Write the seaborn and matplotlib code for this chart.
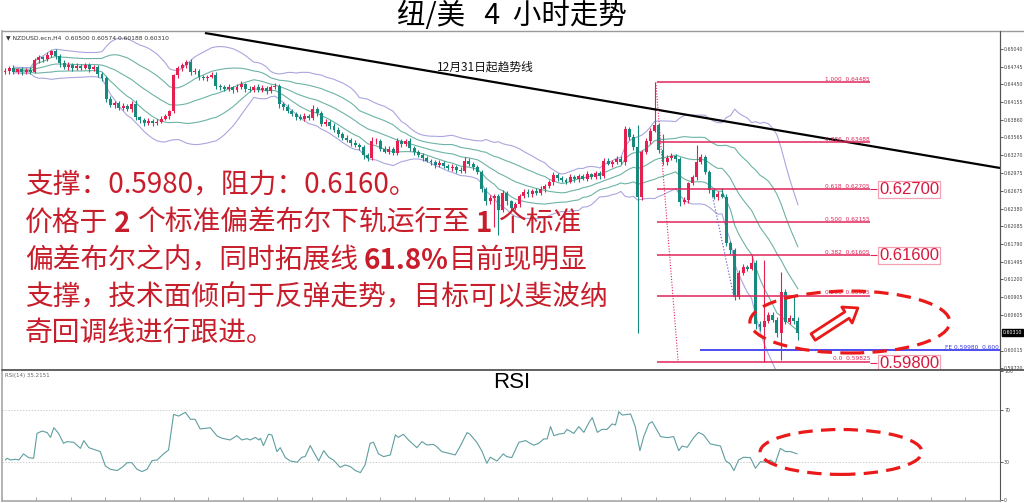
import numpy as np
import pandas as pd
import matplotlib
matplotlib.use("Agg")
import matplotlib.pyplot as plt
import seaborn as sns
from matplotlib.patches import Ellipse, FancyArrowPatch
from matplotlib.lines import Line2D

# ---------------- data ----------------
first_open = 0.6465
closes = [
    0.6468, 0.6472, 0.6466, 0.6470, 0.6465, 0.6469, 0.6466, 0.6486, 0.6490, 0.6487,
    0.6494, 0.6500, 0.6493, 0.6480, 0.6474, 0.6478, 0.6472, 0.6476, 0.6473, 0.6477,
    0.6471, 0.6474, 0.6462, 0.6456, 0.6420, 0.6411, 0.6414, 0.6406, 0.6409, 0.6404,
    0.6413, 0.6390, 0.6385, 0.6381, 0.6384, 0.6380, 0.6383, 0.6388, 0.6392, 0.6400,
    0.6461, 0.6472, 0.6478, 0.6483, 0.6465, 0.6468, 0.6457, 0.6455, 0.6458, 0.6461,
    0.6443, 0.6440, 0.6437, 0.6440, 0.6436, 0.6441, 0.6445, 0.6438, 0.6436, 0.6441,
    0.6436, 0.6439, 0.6434, 0.6440, 0.6443, 0.6412, 0.6408, 0.6400, 0.6396, 0.6391,
    0.6388, 0.6393, 0.6389, 0.6404, 0.6398, 0.6379, 0.6383, 0.6376, 0.6369, 0.6362,
    0.6356, 0.6352, 0.6348, 0.6344, 0.6340, 0.6327, 0.6322, 0.6350, 0.6351, 0.6338,
    0.6333, 0.6337, 0.6331, 0.6350, 0.6346, 0.6351, 0.6339, 0.6332, 0.6327, 0.6322,
    0.6318, 0.6315, 0.6311, 0.6314, 0.6309, 0.6305, 0.6308, 0.6303, 0.6300, 0.6318,
    0.6313, 0.6307, 0.6299, 0.6270, 0.6250, 0.6256, 0.6259, 0.6236, 0.6264, 0.6250,
    0.6239, 0.6245, 0.6259, 0.6266, 0.6262, 0.6268, 0.6264, 0.6270, 0.6276, 0.6282,
    0.6294, 0.6289, 0.6286, 0.6283, 0.6290, 0.6287, 0.6292, 0.6288, 0.6295, 0.6291,
    0.6297, 0.6293, 0.6318, 0.6313, 0.6316, 0.6321, 0.6315, 0.6370, 0.6358, 0.6340,
    0.6257, 0.6332, 0.6350, 0.6368, 0.6377, 0.6336, 0.6315, 0.6322, 0.6326, 0.6320,
    0.6249, 0.6252, 0.6280, 0.6290, 0.6316, 0.6324, 0.6299, 0.6269, 0.6257, 0.6262,
    0.6258, 0.6181, 0.6169, 0.6091, 0.6131, 0.6141, 0.6138, 0.6147, 0.6046, 0.6040,
    0.6051, 0.6061, 0.6052, 0.6030, 0.6099, 0.6049, 0.6056, 0.6050, 0.6031,
]
upper_wick_pips = [
    4, 3, 5, 3, 4, 3, 5, 3, 4, 3,
    5, 2, 4, 3, 6, 4, 3, 5, 3, 4,
    3, 4, 3, 4, 3, 6, 4, 3, 5, 4,
    4, 6, 3, 4, 5, 3, 4, 5, 4, 3,
    2, 4, 3, 3, 5, 4, 3, 4, 3, 5,
    4, 3, 4, 5, 3, 4, 5, 3, 4, 3,
    4, 5, 3, 4, 5, 3, 4, 5, 4, 3,
    4, 5, 3, 6, 4, 3, 4, 3, 4, 5,
    3, 4, 3, 4, 3, 4, 3, 7, 4, 3,
    4, 5, 3, 5, 4, 3, 4, 3, 4, 3,
    4, 3, 4, 5, 3, 4, 5, 3, 4, 6,
    4, 3, 4, 3, 4, 5, 3, 4, 5, 4,
    3, 4, 3, 5, 4, 3, 4, 5, 3, 4,
    5, 3, 4, 3, 5, 4, 3, 4, 5, 3,
    4, 3, 5, 4, 3, 5, 4, 5, 4, 5,
    37, 4, 5, 4, 72, 4, 26, 5, 4, 3,
    4, 5, 3, 4, 28, 5, 4, 3, 4, 5,
    10, 4, 3, 4, 5, 4, 3, 14, 5, 4,
    101, 5, 4, 5, 34, 5, 4, 38, 7,
]
lower_wick_pips = [
    3, 5, 3, 4, 5, 3, 4, 2, 5, 4,
    3, 4, 5, 6, 3, 5, 4, 3, 4, 3,
    5, 3, 5, 6, 5, 4, 5, 4, 3, 4,
    5, 5, 4, 5, 3, 4, 3, 3, 2, 5,
    3, 5, 4, 5, 4, 3, 5, 3, 4, 3,
    6, 4, 3, 3, 5, 3, 4, 5, 3, 4,
    3, 4, 5, 3, 3, 6, 5, 3, 4, 5,
    3, 4, 4, 3, 5, 4, 3, 5, 3, 4,
    4, 3, 5, 4, 5, 6, 4, 3, 5, 4,
    3, 4, 4, 3, 5, 4, 5, 4, 3, 5,
    3, 4, 5, 3, 4, 3, 4, 5, 3, 3,
    4, 5, 3, 5, 6, 4, 49, 42, 3, 6,
    5, 3, 4, 3, 4, 5, 3, 4, 4, 3,
    4, 5, 3, 4, 3, 4, 5, 3, 4, 4,
    3, 5, 4, 3, 5, 4, 3, 4, 6, 4,
    226, 5, 3, 4, 3, 5, 4, 4, 3, 5,
    6, 4, 5, 3, 4, 3, 4, 5, 3, 4,
    3, 5, 6, 6, 4, 3, 4, 3, 8, 6,
    57, 4, 3, 6, 44, 4, 3, 4, 12,
]

rsi_pos = [
    0, 0.4, 1.2, 2.4, 3.2, 4.3, 5.5, 6.7, 7.5, 8.7,
    9.9, 10.7, 11.5, 12.6, 13.8, 14.6, 16.2, 17.8, 18.6, 19.8,
    22.5, 23.7, 24.9, 26.5, 27.7, 28.9, 30.0, 31.2, 32.4, 33.6,
    34.8, 36.0, 37.5, 38.7, 39.9, 41.1, 42.7, 43.9, 45.0, 46.2,
    47.4, 48.6, 50.2, 51.4, 53.3, 54.9, 56.1, 57.3, 58.1, 59.3,
    60.1, 60.5, 61.2, 62.4, 63.2, 64.4, 65.2, 66.4, 67.6, 69.2,
    70.3, 71.1, 72.3, 73.5, 74.3, 75.5, 76.7, 77.8, 79.4, 80.6,
    81.8, 83.0, 84.2, 85.3, 86.5, 87.3, 88.5, 89.7, 91.3, 92.5,
    93.2, 94.4, 95.6, 97.6, 98.8, 100.0, 101.5, 102.3, 103.5, 105.1,
    106.7, 107.9, 109.5, 110.2, 111.8, 113.0, 114.2, 115.0, 116.6, 118.1,
    118.9, 120.1, 121.8, 123.4, 124.2, 125.3, 126.5, 127.7, 128.5, 129.3,
    130.1, 131.3, 132.5, 133.2, 134.8, 136.0, 137.2, 138.4, 139.2, 140.4,
    141.5, 142.7, 143.9, 144.7, 145.5, 146.3, 148.3, 149.4, 150.5, 151.4,
    152.6, 153.4, 155.4, 157.0, 158.5, 159.7, 160.5, 161.7, 163.3, 164.4,
    165.6, 167.2, 169.6, 170.8, 171.9, 172.8, 173.9, 175.1, 176.7, 177.9,
    179.1, 180.3, 181.4, 182.6, 183.8, 185.0, 186.2, 187.8,
]
rsi_val = [
    31.3, 32.6, 31.3, 31.8, 31.3, 36.0, 33.1, 32.6, 51.9, 53.7,
    52.5, 48.8, 56.3, 51.9, 44.2, 45.5, 45.0, 40.3, 46.3, 40.8,
    37.8, 26.7, 24.1, 23.1, 25.6, 29.2, 29.2, 24.1, 22.3, 24.1,
    30.8, 31.3, 36.0, 39.0, 66.6, 65.3, 68.2, 62.8, 62.8, 55.3,
    55.8, 56.3, 49.9, 48.1, 46.8, 50.1, 46.8, 47.8, 46.8, 48.8,
    46.8, 48.1, 42.4, 51.2, 50.7, 37.8, 40.8, 33.1, 30.5, 29.5,
    33.4, 33.9, 42.4, 35.2, 30.5, 38.5, 33.4, 31.3, 25.6, 27.4,
    26.2, 23.1, 21.5, 27.4, 44.2, 45.0, 36.0, 33.9, 35.2, 50.7,
    48.8, 51.2, 46.8, 40.8, 45.5, 42.9, 43.4, 41.6, 37.8, 36.5,
    35.2, 42.1, 52.5, 51.2, 45.0, 38.3, 28.7, 33.4, 30.5, 36.0,
    33.9, 33.1, 45.0, 46.3, 44.7, 42.7, 44.2, 47.6, 47.6, 57.1,
    50.1, 51.4, 51.9, 55.0, 51.9, 57.1, 52.7, 60.2, 64.1, 52.7,
    55.0, 55.0, 59.2, 58.4, 68.7, 66.1, 66.9, 57.1, 38.5, 49.4,
    59.2, 61.0, 49.4, 48.6, 49.4, 38.5, 42.1, 41.1, 48.8, 52.7,
    50.7, 43.7, 42.1, 30.8, 28.2, 23.1, 31.3, 33.4, 33.1, 24.9,
    30.0, 29.5, 31.3, 28.7, 40.3, 37.8, 37.8, 36.0,
]

fib_levels = [0.64485, 0.63488, 0.62705, 0.62155, 0.61605, 0.60925, 0.59825]
fib_labels = ["1.000  0.64485", "0.786  0.63488", "0.618  0.62705", "0.500  0.62155",
              "0.382  0.61605", "0.236  0.60925", "0.0  0.59825"]
target_levels = [0.62700, 0.61600, 0.59800]
fe_level = 0.60023
fe_label = "FE 0.59980  0.600"
price_ticks = [0.65040, 0.64745, 0.64450, 0.64155, 0.63860, 0.63565, 0.63270, 0.62975,
               0.62675, 0.62380, 0.62085, 0.61790, 0.61495, 0.61200, 0.60905, 0.60605,
               0.60015, 0.59720]
last_price = 0.60310
trend_idx = [47.4, 235.9]
trend_price = [0.65307, 0.63057]
rsi_levels = [70, 30]
rsi_ticks = [100, 70, 30, 0]

title = "纽/美   4  小时走势"
header = "▼ NZDUSD.ecn,H4  0.60500 0.60574 0.60188 0.60310"
rsi_header = "RSI(14) 35.2151"
trend_text = "12月31日起趋势线"
note_lines = [
    [("支撑：0.5980，阻力：0.6160。", False, 0)],
    [("价格于", False, 0), ("2", True, 6), ("个标准偏差布尔下轨运行至", False, 6), ("1", True, 6), ("个标准", False, 6)],
    [("偏差布尔之内，同时拓展线", False, 0), ("61.8%", True, 6), ("目前现明显", False, 0)],
    [("支撑，技术面倾向于反弹走势，目标可以斐波纳", False, 0)],
    [("奇回调线进行跟进。", False, 0)],
]

# ---------------- style ----------------
UP = "#e3204f"
DOWN = "#17897d"
BAND_T = "#6db3a6"
BAND_L = "#aaa6df"
FIB = "#e0245a"
ANN = "#ea1a1a"
TXT = "#c81e2c"

sns.set_theme(style="white")
plt.rcParams['font.family'] = ['Noto Sans CJK SC', 'DejaVu Sans']

W, H = 1024, 503
fig = plt.figure(figsize=(W / 100, H / 100), dpi=100)


def fx(x):
    return x / W


def fy(y):
    return 1 - y / H


ax = fig.add_axes([fx(2), fy(370), fx(1000) - fx(2), fy(31) - fy(370)])
axr = fig.add_axes([fx(2), fy(501), fx(1000) - fx(2), fy(370) - fy(501)])

XL = (-0.71, 235.9)

# ---------------- candles + bands ----------------
c = np.array(closes)
n = len(c)
idx = np.arange(n)
o = np.r_[first_open, c[:-1]]
hi = np.maximum(o, c) + np.array(upper_wick_pips) * 1e-4
lo = np.minimum(o, c) - np.array(lower_wick_pips) * 1e-4
df = pd.DataFrame({"idx": idx, "open": o, "close": c, "high": hi, "low": lo})

mid = df["close"].rolling(20, min_periods=3).mean()
sd = df["close"].rolling(20, min_periods=3).std(ddof=0)
bands = pd.DataFrame({"idx": idx, "mid": mid, "u1": mid + sd, "l1": mid - sd,
                      "u2": mid + 2 * sd, "l2": mid - 2 * sd})
bl = bands.melt(id_vars="idx", var_name="band", value_name="price").dropna()
sns.lineplot(data=bl, x="idx", y="price", hue="band",
             palette={"mid": BAND_T, "u1": BAND_T, "l1": BAND_T, "u2": BAND_L, "l2": BAND_L},
             estimator=None, legend=False, linewidth=0.8, ax=ax, zorder=2)

cols = np.where(c >= o, UP, DOWN)
ax.vlines(idx, lo, hi, colors=cols, linewidth=0.8, zorder=3)
body = np.maximum(np.abs(c - o), 0.00005)
ax.bar(idx, body, bottom=np.minimum(o, c), width=0.7, color=cols, linewidth=0, zorder=4)

# trend line
ax.plot(trend_idx, trend_price, color="black", linewidth=1.6, zorder=5, solid_capstyle="butt")
ax.text(113.8, 0.64740, trend_text, fontsize=8.5, ha="center", va="center", color="#111", zorder=8)

# fib retracement
ax.hlines(fib_levels, 154.6, 205.1, color=FIB, linewidth=1.1, zorder=5)
for lv, lb in zip(fib_levels, fib_labels):
    ax.text(205.1, lv + 0.00008, lb, ha="right", va="bottom", fontsize=4.2,
            color=FIB, family="DejaVu Sans", zorder=6)
ax.plot([154.3, 159.6], [fib_levels[0], fib_levels[-1]], ls=(0, (1, 1.5)), color=FIB, lw=0.8, zorder=5)
ax.plot([167.8, 172.8], [0.6257, 0.6091], ls=(0, (1, 1.5)), color="#6a6ad8", lw=0.9, zorder=5)

for tv in target_levels:
    ax.hlines(tv, 205.1, 206.8, color=FIB, linewidth=0.8, zorder=5)
    ax.text(207.2, tv, f"{tv:.5f}", ha="left", va="center", fontsize=12, color="#d8183e",
            family="Liberation Sans", zorder=9, clip_on=False,
            bbox=dict(boxstyle="square,pad=0.08", fc="white", ec="#f2a2b4", lw=0.9))

# FE line
ax.hlines(fe_level, 164.8, XL[1], color="#4d4df0", linewidth=1.4, zorder=5)
ax.text(XL[1] - 0.3, fe_level, fe_label, ha="right", va="bottom", fontsize=4.2,
        color="#3a3ae0", family="DejaVu Sans", zorder=6)

# annotations
ax.add_patch(Ellipse((200.3, 0.60490), 47.4, 0.01033, fill=False, ec=ANN, lw=2.3,
                     ls=(0, (4.5, 2.6)), zorder=7))
ax.add_patch(FancyArrowPatch((191.6, 0.60240), (202.2, 0.60724),
                             arrowstyle="simple,head_length=0.85,head_width=1.25,tail_width=0.5",
                             mutation_scale=11, fc="white", ec=ANN, lw=2.0,
                             shrinkA=0, shrinkB=0, zorder=7))

ax.set_xlim(*XL)
ax.set_ylim(0.59690, 0.65340)
ax.set_xticks([])
ax.yaxis.tick_right()
ax.set_yticks(price_ticks)
ax.set_yticklabels([f"{v:.5f}" for v in price_ticks], family="DejaVu Sans")
ax.tick_params(axis="y", labelsize=3.4, length=2, width=0.6, pad=1, colors="#444", right=True)
ax.set_xlabel("")
ax.set_ylabel("")
for s in ["top", "bottom"]:
    ax.spines[s].set_visible(False)
ax.spines["left"].set_color("#aaaaaa")
ax.spines["right"].set_color("#555555")
ax.spines["right"].set_linewidth(0.8)
ax.text(1.003, last_price, f"{last_price:.5f}", transform=ax.get_yaxis_transform(),
        ha="left", va="center", fontsize=3.4, color="white", family="DejaVu Sans",
        bbox=dict(boxstyle="square,pad=0.2", fc="black", ec="black"), clip_on=False)

# ---------------- RSI ----------------
rdf = pd.DataFrame({"idx": rsi_pos, "rsi": rsi_val})
sns.lineplot(data=rdf, x="idx", y="rsi", estimator=None, sort=False, color="#5f9ea0",
             linewidth=0.8, ax=axr)
for lv in rsi_levels:
    axr.axhline(lv, color="#cfcfcf", lw=0.7, ls=(0, (1.5, 1.5)), zorder=1)
axr.add_patch(Ellipse((198.2, 37.5), 38.4, 34.8, fill=False, ec=ANN, lw=2.3,
                      ls=(0, (4.5, 2.6)), zorder=7))
axr.set_xlim(*XL)
axr.set_ylim(-0.5, 101)
axr.yaxis.tick_right()
axr.set_yticks(rsi_ticks)
axr.set_yticklabels([str(v) for v in rsi_ticks], family="DejaVu Sans")
axr.tick_params(axis="y", labelsize=3.4, length=2, width=0.6, pad=1, colors="#444", right=True)
axr.set_xticks(np.arange(-0.8, 236, 8.16))
axr.set_xticklabels([])
axr.tick_params(axis="x", direction="in", length=3, width=0.6, colors="#999", bottom=True)
axr.set_xlabel("")
axr.set_ylabel("")
axr.spines["top"].set_visible(False)
axr.spines["left"].set_color("#aaaaaa")
axr.spines["bottom"].set_color("#aaaaaa")
axr.spines["right"].set_color("#555555")
axr.spines["right"].set_linewidth(0.8)

# ---------------- figure-level frame lines ----------------
fig.add_artist(Line2D([fx(2), 1], [fy(370), fy(370)], color="#555555", lw=1.3))
fig.add_artist(Line2D([fx(2), 1], [fy(31), fy(31)], color="#9a9a9a", lw=1.0))
fig.add_artist(Line2D([fx(1000), fx(1000)], [fy(31), fy(370)], color="#555555", lw=0.8))

# ---------------- texts ----------------
fig.text(0.5, fy(16), title, ha="center", va="center", fontsize=20.5, color="black",
         fontweight="light")
fig.text(fx(6), fy(37.5), header, ha="left", va="center", fontsize=4.3, color="#333",
         family="DejaVu Sans")
fig.text(fx(512), fy(383), "RSI", ha="center", va="center", fontsize=16, color="black",
         family="Liberation Sans")
fig.text(fx(5), fy(375.5), rsi_header, ha="left", va="center", fontsize=4, color="#666",
         family="DejaVu Sans")

TXT_FS = 20
line_y = [185, 223, 260, 297, 333]
for ly, segs in zip(line_y, note_lines):
    prev = None
    for text, bold, gap in segs:
        kw = dict(fontsize=TXT_FS, color=TXT, fontweight="bold" if bold else "light",
                  ha="left", annotation_clip=False, zorder=12)
        if prev is None:
            prev = ax.annotate(text, xy=(25, H - ly), xycoords="figure pixels", va="center", **kw)
        else:
            prev = ax.annotate(text, xy=(1, 0), xycoords=prev, xytext=(gap * 0.72, 0),
                               textcoords="offset points", va="bottom", **kw)

fig.savefig("out.png", dpi=100)
